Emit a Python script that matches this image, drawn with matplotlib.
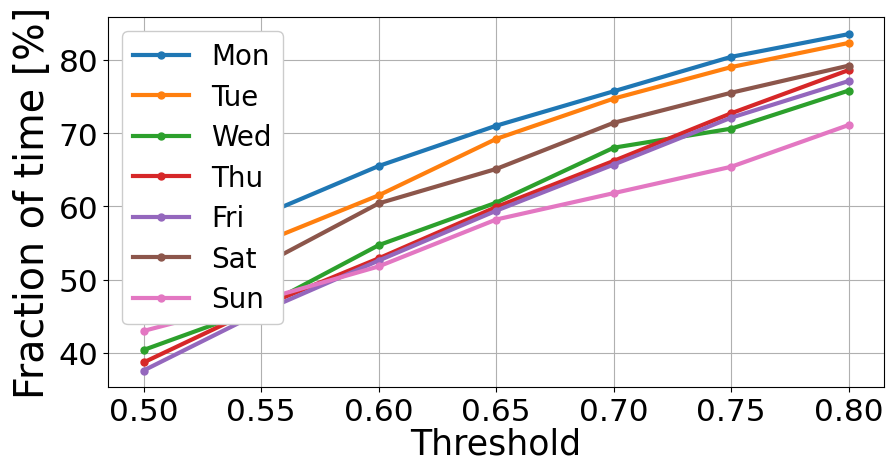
import matplotlib
matplotlib.use("Agg")
import matplotlib.pyplot as plt

thresholds = [0.50, 0.55, 0.60, 0.65, 0.70, 0.75, 0.80]
days = ["Mon", "Tue", "Wed", "Thu", "Fri", "Sat", "Sun"]

# fraction of time [%] above each threshold, one list per weekday
mon = [53.5, 58.7, 65.5, 71.0, 75.7, 80.4, 83.5]
tue = [49.5, 55.0, 61.5, 69.2, 74.7, 79.0, 82.3]
wed = [40.4, 46.2, 54.7, 60.5, 68.0, 70.6, 75.8]
thu = [38.7, 46.3, 52.9, 59.9, 66.2, 72.7, 78.6]
fri = [37.6, 45.6, 52.6, 59.4, 65.7, 72.1, 77.1]
sat = [46.5, 51.9, 60.4, 65.1, 71.4, 75.5, 79.2]
sun = [43.0, 47.2, 51.8, 58.2, 61.8, 65.4, 71.1]

series = [mon, tue, wed, thu, fri, sat, sun]

fig = plt.figure(figsize=(8.9, 4.64), dpi=100)
ax = fig.add_axes([0.1217, 0.1631, 0.8716, 0.7975])

for day, vals in zip(days, series):
    ax.plot(thresholds, vals, "o-", linewidth=3, markersize=5, label=day)

ax.set_xticks(thresholds)
ax.set_xticklabels([f"{t:.2f}" for t in thresholds])
ax.set_yticks([40, 50, 60, 70, 80])
ax.tick_params(labelsize=22.5)
ax.set_xlabel("Threshold", fontsize=25, labelpad=0)
ax.set_ylabel("Fraction of time [%]", fontsize=28.5, labelpad=4)
ax.grid(True)
ax.legend(loc="upper left", fontsize=20, framealpha=1, labelspacing=0.45)

fig.savefig("out.png", dpi=100)
